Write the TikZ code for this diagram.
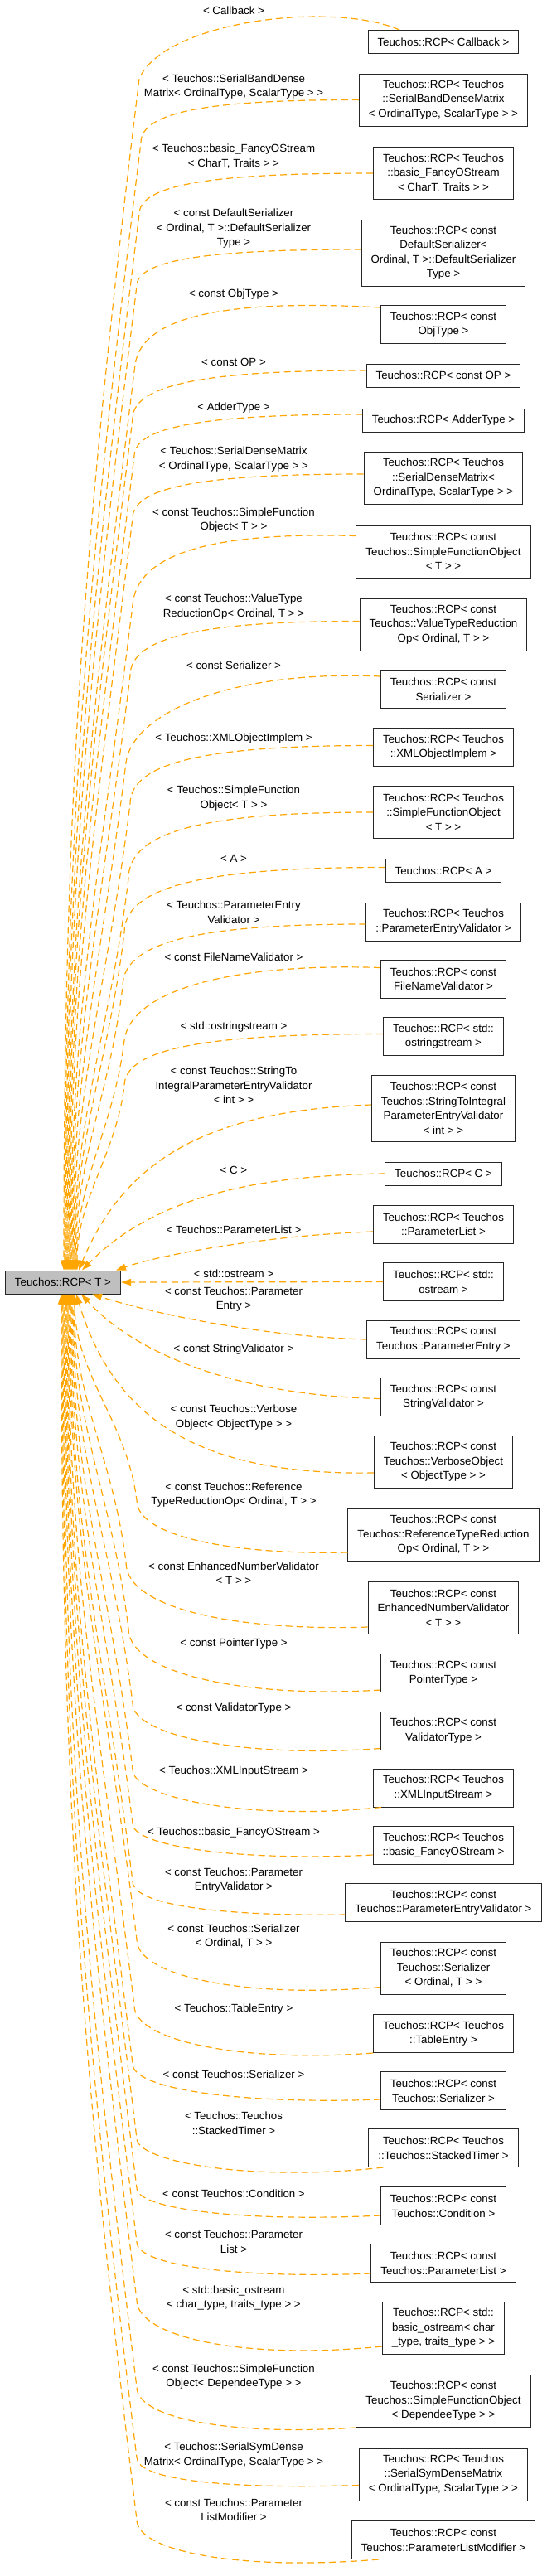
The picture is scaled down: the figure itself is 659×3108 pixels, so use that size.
\documentclass[tikz,border=0pt]{standalone}
\usepackage{fontspec}
\setmainfont{Liberation Sans}
\usepackage{tikz}
\usetikzlibrary{arrows.meta}
\definecolor{deporange}{HTML}{FFA500}
\definecolor{rootgray}{HTML}{BFBFBF}
\begin{document}
\begin{tikzpicture}[x=1pt,y=1pt,
	box/.style={draw=black!85,line width=1pt,fill=white,inner xsep=11.5pt,
		inner ysep=0pt,align=center,font=\fontsize{13.3}{17.5}\selectfont},
	h1/.style={minimum height=28pt}, h2/.style={minimum height=46pt},
	h3/.style={minimum height=63pt}, h4/.style={minimum height=80pt},
	lbl/.style={inner sep=0pt,align=center,font=\fontsize{13.3}{17.5}\selectfont},
	dep/.style={draw=deporange,line width=1.2pt,dash pattern=on 8pt off 5pt,
		-{Triangle[length=12pt,width=8pt]}}]
	\useasboundingbox (0,0) rectangle (659,-3108);
	% the class itself
	\node[box,h1,fill=rootgray] (main) at (76,-1547) {Teuchos::RCP< T >};
	% instantiations
	\node[box,h1] (c1) at (535,-50.5) {Teuchos::RCP< Callback >};
	\node[box,h3] (c2) at (535,-120.5) {Teuchos::RCP< Teuchos\\::SerialBandDenseMatrix\\< OrdinalType, ScalarType > >};
	\node[box,h3] (c3) at (535,-209) {Teuchos::RCP< Teuchos\\::basic\_FancyOStream\\< CharT, Traits > >};
	\node[box,h4] (c4) at (535,-305) {Teuchos::RCP< const\\DefaultSerializer<\\Ordinal, T >::DefaultSerializer\\Type >};
	\node[box,h2] (c5) at (535,-391.5) {Teuchos::RCP< const\\ObjType >};
	\node[box,h1] (c6) at (535,-453) {Teuchos::RCP< const OP >};
	\node[box,h1] (c7) at (535,-507) {Teuchos::RCP< AdderType >};
	\node[box,h3] (c8) at (535,-577) {Teuchos::RCP< Teuchos\\::SerialDenseMatrix<\\OrdinalType, ScalarType > >};
	\node[box,h3] (c9) at (535,-665.5) {Teuchos::RCP< const\\Teuchos::SimpleFunctionObject\\< T > >};
	\node[box,h3] (c10) at (535,-753.5) {Teuchos::RCP< const\\Teuchos::ValueTypeReduction\\Op< Ordinal, T > >};
	\node[box,h2] (c11) at (535,-831.5) {Teuchos::RCP< const\\Serializer >};
	\node[box,h2] (c12) at (535,-901.5) {Teuchos::RCP< Teuchos\\::XMLObjectImplem >};
	\node[box,h3] (c13) at (535,-980) {Teuchos::RCP< Teuchos\\::SimpleFunctionObject\\< T > >};
	\node[box,h1] (c14) at (535,-1050.5) {Teuchos::RCP< A >};
	\node[box,h2] (c15) at (535,-1112) {Teuchos::RCP< Teuchos\\::ParameterEntryValidator >};
	\node[box,h2] (c16) at (535,-1181) {Teuchos::RCP< const\\FileNameValidator >};
	\node[box,h2] (c17) at (535,-1250.5) {Teuchos::RCP< std::\\ostringstream >};
	\node[box,h4] (c18) at (535,-1337) {Teuchos::RCP< const\\Teuchos::StringToIntegral\\ParameterEntryValidator\\< int > >};
	\node[box,h1] (c19) at (535,-1416) {Teuchos::RCP< C >};
	\node[box,h2] (c20) at (535,-1477) {Teuchos::RCP< Teuchos\\::ParameterList >};
	\node[box,h2] (c21) at (535,-1546.5) {Teuchos::RCP< std::\\ostream >};
	\node[box,h2] (c22) at (535,-1616) {Teuchos::RCP< const\\Teuchos::ParameterEntry >};
	\node[box,h2] (c23) at (535,-1685.5) {Teuchos::RCP< const\\StringValidator >};
	\node[box,h3] (c24) at (535,-1764) {Teuchos::RCP< const\\Teuchos::VerboseObject\\< ObjectType > >};
	\node[box,h3] (c25) at (535,-1852) {Teuchos::RCP< const\\Teuchos::ReferenceTypeReduction\\Op< Ordinal, T > >};
	\node[box,h3] (c26) at (535,-1940) {Teuchos::RCP< const\\EnhancedNumberValidator\\< T > >};
	\node[box,h2] (c27) at (535,-2018.5) {Teuchos::RCP< const\\PointerType >};
	\node[box,h2] (c28) at (535,-2088) {Teuchos::RCP< const\\ValidatorType >};
	\node[box,h2] (c29) at (535,-2157) {Teuchos::RCP< Teuchos\\::XMLInputStream >};
	\node[box,h2] (c30) at (535,-2226.5) {Teuchos::RCP< Teuchos\\::basic\_FancyOStream >};
	\node[box,h2] (c31) at (535,-2295.5) {Teuchos::RCP< const\\Teuchos::ParameterEntryValidator >};
	\node[box,h3] (c32) at (535,-2374.5) {Teuchos::RCP< const\\Teuchos::Serializer\\< Ordinal, T > >};
	\node[box,h2] (c33) at (535,-2453.5) {Teuchos::RCP< Teuchos\\::TableEntry >};
	\node[box,h2] (c34) at (535,-2522.5) {Teuchos::RCP< const\\Teuchos::Serializer >};
	\node[box,h2] (c35) at (535,-2591.5) {Teuchos::RCP< Teuchos\\::Teuchos::StackedTimer >};
	\node[box,h2] (c36) at (535,-2661.5) {Teuchos::RCP< const\\Teuchos::Condition >};
	\node[box,h2] (c37) at (535,-2730.5) {Teuchos::RCP< const\\Teuchos::ParameterList >};
	\node[box,h3] (c38) at (535,-2809) {Teuchos::RCP< std::\\basic\_ostream< char\\\_type, traits\_type > >};
	\node[box,h3] (c39) at (535,-2897) {Teuchos::RCP< const\\Teuchos::SimpleFunctionObject\\< DependeeType > >};
	\node[box,h3] (c40) at (535,-2985.5) {Teuchos::RCP< Teuchos\\::SerialSymDenseMatrix\\< OrdinalType, ScalarType > >};
	\node[box,h2] (c41) at (535,-3064.5) {Teuchos::RCP< const\\Teuchos::ParameterListModifier >};
	% template arguments
	\node[lbl] (lb1) at (282,-13) {< Callback >};
	\node[lbl] (lb2) at (282,-104.5) {< Teuchos::SerialBandDense\\Matrix< OrdinalType, ScalarType > >};
	\node[lbl] (lb3) at (282,-188.5) {< Teuchos::basic\_FancyOStream\\< CharT, Traits > >};
	\node[lbl] (lb4) at (282,-276) {< const DefaultSerializer\\< Ordinal, T >::DefaultSerializer\\Type >};
	\node[lbl] (lb5) at (282,-355) {< const ObjType >};
	\node[lbl] (lb6) at (282,-437) {< const OP >};
	\node[lbl] (lb7) at (282,-492) {< AdderType >};
	\node[lbl] (lb8) at (282,-554) {< Teuchos::SerialDenseMatrix\\< OrdinalType, ScalarType > >};
	\node[lbl] (lb9) at (282,-627.5) {< const Teuchos::SimpleFunction\\Object< T > >};
	\node[lbl] (lb10) at (282,-732) {< const Teuchos::ValueType\\ReductionOp< Ordinal, T > >};
	\node[lbl] (lb11) at (282,-803) {< const Serializer >};
	\node[lbl] (lb12) at (282,-891) {< Teuchos::XMLObjectImplem >};
	\node[lbl] (lb13) at (282,-963) {< Teuchos::SimpleFunction\\Object< T > >};
	\node[lbl] (lb14) at (282,-1036) {< A >};
	\node[lbl] (lb15) at (282,-1100.5) {< Teuchos::ParameterEntry\\Validator >};
	\node[lbl] (lb16) at (282,-1155) {< const FileNameValidator >};
	\node[lbl] (lb17) at (282,-1239) {< std::ostringstream >};
	\node[lbl] (lb18) at (282,-1309.5) {< const Teuchos::StringTo\\IntegralParameterEntryValidator\\< int > >};
	\node[lbl] (lb19) at (282,-1412) {< C >};
	\node[lbl] (lb20) at (282,-1484) {< Teuchos::ParameterList >};
	\node[lbl] (lb21) at (282,-1537) {< std::ostream >};
	\node[lbl] (lb22) at (282,-1567.5) {< const Teuchos::Parameter\\Entry >};
	\node[lbl] (lb23) at (282,-1628) {< const StringValidator >};
	\node[lbl] (lb24) at (282,-1710) {< const Teuchos::Verbose\\Object< ObjectType > >};
	\node[lbl] (lb25) at (282,-1803.5) {< const Teuchos::Reference\\TypeReductionOp< Ordinal, T > >};
	\node[lbl] (lb26) at (282,-1898) {< const EnhancedNumberValidator\\< T > >};
	\node[lbl] (lb27) at (282,-1983) {< const PointerType >};
	\node[lbl] (lb28) at (282,-2061) {< const ValidatorType >};
	\node[lbl] (lb29) at (282,-2137) {< Teuchos::XMLInputStream >};
	\node[lbl] (lb30) at (282,-2211) {< Teuchos::basic\_FancyOStream >};
	\node[lbl] (lb31) at (282,-2268.5) {< const Teuchos::Parameter\\EntryValidator >};
	\node[lbl] (lb32) at (282,-2336) {< const Teuchos::Serializer\\< Ordinal, T > >};
	\node[lbl] (lb33) at (282,-2424) {< Teuchos::TableEntry >};
	\node[lbl] (lb34) at (282,-2503) {< const Teuchos::Serializer >};
	\node[lbl] (lb35) at (282,-2561.5) {< Teuchos::Teuchos\\::StackedTimer >};
	\node[lbl] (lb36) at (282,-2647) {< const Teuchos::Condition >};
	\node[lbl] (lb37) at (282,-2704.5) {< const Teuchos::Parameter\\List >};
	\node[lbl] (lb38) at (282,-2772.5) {< std::basic\_ostream\\< char\_type, traits\_type > >};
	\node[lbl] (lb39) at (282,-2867.5) {< const Teuchos::SimpleFunction\\Object< DependeeType > >};
	\node[lbl] (lb40) at (282,-2962) {< Teuchos::SerialSymDense\\Matrix< OrdinalType, ScalarType > >};
	\node[lbl] (lb41) at (282,-3028) {< const Teuchos::Parameter\\ListModifier >};
	% edges into the top of the class
	\draw[dep] ([xshift=-53pt]c1.north) .. controls +(-80,35) and +(30,70) .. (168,-95) .. controls +(-68,-557) and +(0,561) .. ([xshift=71pt]main.north west);
	\draw[dep] (c2.west) .. controls +(-172,0) and +(0,39) .. (170,-172) .. controls +(-65,-527) and +(0,531) .. ([xshift=72pt]main.north west);
	\draw[dep] (c3.west) .. controls +(-183,0) and +(0,37) .. (168,-258) .. controls +(-61,-494) and +(0,497) .. ([xshift=73pt]main.north west);
	\draw[dep] ([yshift=4pt]c4.west) .. controls +(-175,0) and +(0,33) .. (165,-345) .. controls +(-57,-460) and +(0,463) .. ([xshift=74pt]main.north west);
	\draw[dep] ([yshift=-3pt]c5.north west) .. controls +(-180,10) and +(8,60) .. (163,-440) .. controls +(-52,-423) and +(0,426) .. ([xshift=75pt]main.north west);
	\draw[dep] ([yshift=6pt]c6.west) .. controls +(-183,0) and +(0,43) .. (160,-505) .. controls +(-49,-398) and +(0,401) .. ([xshift=76pt]main.north west);
	\draw[dep] ([yshift=7pt]c7.west) .. controls +(-179,0) and +(0,37) .. (162,-550) .. controls +(-47,-380) and +(0,383) .. ([xshift=77pt]main.north west);
	\draw[dep] ([yshift=5pt]c8.west) .. controls +(-181,0) and +(0,40) .. (160,-625) .. controls +(-43,-352) and +(0,354) .. ([xshift=78pt]main.north west);
	\draw[dep] ([yshift=-13pt]c9.north west) .. controls +(-180,5) and +(5,60) .. (160,-730) .. controls +(-38,-311) and +(0,313) .. ([xshift=79pt]main.north west);
	\draw[dep] ([yshift=4pt]c10.west) .. controls +(-179,0) and +(0,49) .. (157,-815) .. controls +(-34,-278) and +(0,280) .. ([xshift=80pt]main.north west);
	\draw[dep] ([yshift=-8pt]c11.north west) .. controls +(-180,8) and +(8,60) .. (152,-920) .. controls +(-29,-237) and +(0,239) .. ([xshift=81pt]main.north west);
	\draw[dep] ([yshift=2pt]c12.west) .. controls +(-190,0) and +(0,53) .. (157,-970) .. controls +(-27,-218) and +(0,220) .. ([xshift=82pt]main.north west);
	\draw[dep] (c13.west) .. controls +(-192,0) and +(0,60) .. (155,-1060) .. controls +(-22,-183) and +(0,184) .. ([xshift=83pt]main.north west);
	\draw[dep] ([yshift=4pt]c14.west) .. controls +(-204,0) and +(0,59) .. (150,-1125) .. controls +(-19,-158) and +(0,159) .. ([xshift=84pt]main.north west);
	\draw[dep] ([yshift=-3pt]c15.west) .. controls +(-192,0) and +(0,56) .. (148,-1190) .. controls +(-16,-133) and +(0,134) .. ([xshift=85pt]main.north west);
	\draw[dep] ([yshift=-10pt]c16.north west) .. controls +(-180,6) and +(8,60) .. (150,-1255) .. controls +(-13,-107) and +(0,108) .. ([xshift=86pt]main.north west);
	\draw[dep] ([yshift=3pt]c17.west) .. controls +(-203,0) and +(0,47) .. (150,-1310) .. controls +(-11,-86) and +(0,87) .. ([xshift=87pt]main.north west);
	\draw[dep] ([yshift=4pt]c18.west) .. controls (250,-1340) and (150,-1400) .. ([xshift=89pt]main.north west);
	\draw[dep] (c19.west) .. controls (320,-1418) and (190,-1440) .. ([xshift=93pt]main.north west);
	\draw[dep] ([yshift=-9pt]c20.west) .. controls (330,-1490) and (200,-1512) .. ([xshift=134pt]main.north west);
	% straight in from the right
	\draw[dep] (c21.west) -- (main.east);
	% edges into the bottom of the class
	\draw[dep] (c22.west) .. controls (300,-1612) and (170,-1580) .. ([xshift=105pt]main.south west);
	\draw[dep] ([yshift=-2pt]c23.west) .. controls (300,-1684) and (170,-1640) .. ([xshift=92pt]main.south west);
	\draw[dep] ([yshift=-13pt]c24.west) .. controls (250,-1780) and (140,-1720) .. ([xshift=86pt]main.south west);
	\draw[dep] ([yshift=11pt]c25.south west) .. controls +(-130,-3) and +(0,-46) .. (165,-1810) .. controls +(-12,96) and +(0,-97) .. ([xshift=84pt]main.south west);
	\draw[dep] ([yshift=9pt]c26.south west) .. controls +(-150,-5) and +(0,-58) .. (152,-1885) .. controls +(-15,125) and +(0,-126) .. ([xshift=83pt]main.south west);
	\draw[dep] ([yshift=3pt]c27.south west) .. controls +(-160,-10) and +(0,-55) .. (155,-1965) .. controls +(-19,157) and +(0,-158) .. ([xshift=82pt]main.south west);
	\draw[dep] ([yshift=2pt]c28.south west) .. controls +(-160,-12) and +(0,-40) .. (160,-2055) .. controls +(-24,192) and +(0,-193) .. ([xshift=81pt]main.south west);
	\draw[dep] ([xshift=10pt]c29.south west) .. controls +(-160,-17) and +(0,-34) .. (160,-2135) .. controls +(-27,222) and +(0,-224) .. ([xshift=80pt]main.south west);
	\draw[dep] ([yshift=12pt]c30.south west) .. controls +(-160,-8) and +(0,-28) .. (160,-2200) .. controls +(-30,247) and +(0,-249) .. ([xshift=79pt]main.south west);
	\draw[dep] ([yshift=9pt]c31.south west) .. controls +(-140,-2) and +(0,-30) .. (160,-2270) .. controls +(-34,275) and +(0,-277) .. ([xshift=78pt]main.south west);
	\draw[dep] ([yshift=9pt]c32.south west) .. controls +(-160,-14) and +(0,-45) .. (165,-2340) .. controls +(-37,302) and +(0,-304) .. ([xshift=77pt]main.south west);
	\draw[dep] (c33.south west) .. controls +(-160,-12) and +(0,-42) .. (162,-2420) .. controls +(-41,333) and +(0,-335) .. ([xshift=76pt]main.south west);
	\draw[dep] ([yshift=13pt]c34.south west) .. controls +(-160,-6) and +(0,-32) .. (160,-2490) .. controls +(-44,359) and +(0,-362) .. ([xshift=75pt]main.south west);
	\draw[dep] ([xshift=18pt]c35.south west) .. controls +(-160,-18) and +(0,-28) .. (165,-2580) .. controls +(-48,394) and +(0,-397) .. ([xshift=74pt]main.south west);
	\draw[dep] ([yshift=12pt]c36.south west) .. controls +(-160,-8) and +(0,-26) .. (165,-2640) .. controls +(-51,418) and +(0,-421) .. ([xshift=73pt]main.south west);
	\draw[dep] ([yshift=11pt]c37.south west) .. controls +(-150,-6) and +(0,-30) .. (165,-2705) .. controls +(-54,443) and +(0,-446) .. ([xshift=72pt]main.south west);
	\draw[dep] ([yshift=10pt]c38.south west) .. controls +(-170,-17) and +(0,-44) .. (165,-2775) .. controls +(-58,470) and +(0,-473) .. ([xshift=71pt]main.south west);
	\draw[dep] (c39.south west) .. controls +(-150,-10) and +(0,-38) .. (165,-2880) .. controls +(-63,510) and +(0,-514) .. ([xshift=70pt]main.south west);
	\draw[dep] ([yshift=19pt]c40.south west) .. controls +(-160,-5) and +(0,-27) .. (165,-2965) .. controls +(-67,544) and +(0,-548) .. ([xshift=69pt]main.south west);
	\draw[dep] ([xshift=33pt]c41.south west) .. controls +(-170,-14) and +(0,-38) .. (165,-3040) .. controls +(-70,573) and +(0,-577) .. ([xshift=68pt]main.south west);
\end{tikzpicture}
\end{document}
